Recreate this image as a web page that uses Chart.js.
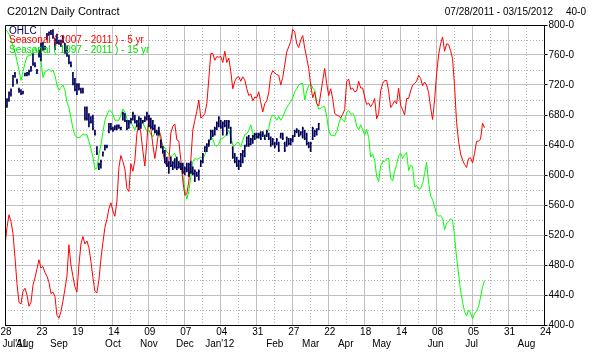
<!DOCTYPE html>
<html><head><meta charset="utf-8">
<script src="https://cdn.jsdelivr.net/npm/chart.js@4.4.1/dist/chart.umd.min.js"></script>
<style>html,body{margin:0;padding:0;background:#fff;}#wrap{width:595px;height:355px;}</style>
</head><body><div id="wrap"><canvas id="c" width="595" height="355"></canvas></div>
<script>
// ---- x axis: trading-day index, ticks every 18 trading days ----
const tickLabels = ['28','23','19','14','09','07','04','31','27','22','18','14','08','05','31','24'];
const monthLabels = ["Jul'11",'Aug','Sep','Oct','Nov','Dec',"Jan'12",'Feb','Mar','Apr','May','Jun','Jul','Aug'];
const monthDays = [5, 10, 27, 54, 72, 90, 107.5, 135, 153, 170.5, 188.5, 215.5, 233.5, 261];

// ---- OHLC, C2012N daily, 07/28/2011 - 03/15/2012 (one value per trading day) ----
const lows = [690,690,698,705,718,730,722,710,707,708, 732,732,733,738,746,744,735,757,752,766,
  767,780,786,787,782,767,775,774,771,776, 762,758,748,744,720,712,707,713,709,709,
  673,673,664,669,660,653,627,607,609,625, 633,636,656,660,658,660,660,662,660,673,
  671,660,662,669,673,669,664,660,662,669, 671,673,664,662,660,656,653,653,636,629,
  616,611,602,611,607,609,607,609,607,602, 600,604,598,602,600,591,598,593,611,616,
  631,631,638,647,651,653,660,664,662,653, 664,653,662,642,622,616,611,607,611,616,
  624,638,638,640,642,647,649,649,647,651, 647,651,647,638,640,636,640,631,649,647,
  631,638,640,640,644,651,656,651,653,649, 647,640,636,631,647,651,653,660];
const highs = [700,702,711,715,733,737,728,716,714,712, 736,737,740,745,762,750,741,767,776,777,
  772,789,791,793,794,782,788,780,780,786, 776,772,760,751,737,729,722,722,716,716,
  691,691,682,678,680,660,638,616,620,631, 640,640,669,669,664,666,667,667,664,684,
  682,673,673,676,684,680,673,678,676,673, 678,684,680,676,673,667,660,664,647,638,
  633,624,618,624,618,622,624,618,616,616, 611,616,616,618,611,607,604,607,620,629,
  638,642,647,660,660,664,671,678,673,671, 673,673,673,664,638,629,624,620,629,633,
  640,651,653,649,653,656,656,656,658,658, 653,660,656,651,649,644,649,644,656,656,
  644,651,649,649,653,660,662,660,658,664, 660,656,644,644,664,660,662,669];
const opens = [692,692,700,707,720,735,726,714,712,709, 733,733,735,740,760,748,737,765,754,775,
  768,782,787,792,792,769,786,779,773,784, 774,770,758,750,735,727,709,720,714,714,
  689,689,680,676,678,659,636,609,611,626, 634,637,658,667,662,661,662,666,661,675,
  680,671,664,670,675,678,671,662,674,670, 672,675,678,674,671,665,658,662,645,636,
  631,622,604,622,609,620,622,616,614,614, 602,614,600,616,609,593,603,595,612,618,
  632,633,640,649,659,655,662,666,671,655, 671,671,664,662,636,627,622,609,613,618,
  626,640,651,642,644,649,654,651,656,652, 652,653,654,649,642,642,642,642,651,654,
  642,640,647,642,646,653,657,658,654,651, 658,654,642,633,649,652,655,662];
const closes = [698,700,709,713,731,732,724,712,709,711, 735,736,738,743,748,746,739,759,774,768,
  771,787,790,789,784,780,777,776,778,778, 764,760,750,746,722,714,720,715,711,711,
  676,675,670,671,662,655,629,614,618,630, 639,639,664,662,660,664,665,663,663,682,
  673,662,671,674,682,671,666,675,668,672, 676,682,666,664,662,658,656,655,638,631,
  618,613,616,613,616,612,610,611,609,604, 609,607,614,604,602,605,599,605,618,627,
  637,640,645,658,653,662,669,676,664,669, 666,656,671,644,624,618,613,618,627,631,
  638,649,641,647,651,654,651,654,649,656, 648,658,649,640,647,638,647,633,655,649,
  633,649,642,647,651,658,660,653,657,662, 649,642,638,642,662,658,660,668];

// ---- Seasonal ( 2007 - 2011 ) - 5 yr, one value per trading day ----
const seasonal5 = [507,530,547,538,522,490,455,430,428,445, 449,440,425,430,453,463,475,487,476,478,
  470,465,457,442,444,438,413,409,418,432, 448,465,507,480,465,451,444,480,508,518,
  508,512,503,485,463,445,443,460,488,510, 530,541,555,563,552,545,565,610,626,618,
  608,582,578,615,605,620,655,670,656,632, 612,645,680,662,640,622,640,660,652,631,
  617,612,618,656,665,668,647,645,620,592, 573,575,592,620,660,673,685,700,676,678,
  682,695,728,762,762,753,758,757,758,750, 765,750,756,738,715,725,730,731,725,731,
  727,715,706,708,699,704,703,711,697,684, 695,699,710,733,739,736,734,733,720,730,
  747,764,771,778,794,791,775,770,780,786, 769,756,742,720,703,711,695,692,708,726,
  742,722,706,715,702,682,680,679,676,681, 687,725,728,714,716,711,712,725,716,716,
  704,694,696,691,695,702,675,682,712,722, 726,726,712,690,694,699,695,716,693,687,
  680,702,702,712,720,722,725,733,729,719, 724,720,710,690,674,700,735,760,775,784,
  765,775,774,766,755,718,670,645,628,620, 614,610,622,623,616,629,645,645,648,669,663];

// ---- Seasonal ( 1997 - 2011 ) - 15 yr ----
const seasonal15 = [795,792,788,781,772,764,752,740,726,738, 749,758,759,760,765,769,763,766,752,730,
  738,739,741,738,740,733,720,713,717,720, 713,697,690,676,662,653,650,650,651,655,
  653,654,645,635,624,608,609,627,640,657, 673,680,686,685,681,673,673,673,680,688,
  684,675,669,671,665,660,669,676,674,669, 664,658,660,654,651,656,658,654,648,639,
  636,631,628,624,627,629,620,617,612,600, 580,568,578,598,618,622,621,622,624,622,
  627,634,640,651,648,640,638,641,649,649, 651,655,660,651,640,639,643,643,638,646,
  654,655,659,667,656,648,649,652,653,654, 654,655,662,676,680,678,673,678,673,677,
  684,690,694,698,703,711,715,720,722,722, 700,712,719,722,716,713,696,688,689,691,
  691,678,660,653,653,652,658,668,676,673, 671,684,686,681,682,678,665,660,667,661,
  653,661,650,624,628,620,598,591,612,618, 618,622,622,596,592,605,614,626,629,622,
  627,630,606,613,611,584,586,581,582,589, 602,617,590,572,567,558,548,545,546,542,
  527,536,538,542,540,518,490,468,446,430, 418,412,420,416,408,416,418,425,437,451,459];

const FONT = '"Liberation Sans", Arial, Helvetica, sans-serif';
const NAVY = '#00005c';
const RED = '#ff0000';
const GREEN = '#00ff00';
const DAYS_PER_TICK = 18;

const decor = {
  id: 'decor',
  beforeDatasetsDraw(chart) {
    const { ctx, chartArea: a, scales: { x, y } } = chart;
    ctx.save();
    ctx.lineWidth = 1;
    const crisp = p => Math.round(p - 0.5) + 0.5;
    for (let v = 420; v < 800; v += 20) {
      const py = crisp(y.getPixelForValue(v));
      const solid = v % 40 === 0;
      ctx.strokeStyle = solid ? '#c0c0c0' : '#b4b4b4';
      ctx.setLineDash(solid ? [] : [1, 2]);
      ctx.beginPath(); ctx.moveTo(a.left, py); ctx.lineTo(a.right, py); ctx.stroke();
    }
    for (let d = DAYS_PER_TICK / 2; d < 270; d += DAYS_PER_TICK / 2) {
      const px = crisp(x.getPixelForValue(d));
      const solid = d % DAYS_PER_TICK === 0;
      ctx.strokeStyle = solid ? '#c0c0c0' : '#b4b4b4';
      ctx.setLineDash(solid ? [] : [1, 2]);
      ctx.beginPath(); ctx.moveTo(px, a.top); ctx.lineTo(px, a.bottom); ctx.stroke();
    }
    ctx.restore();
  },
  afterDraw(chart) {
    const { ctx, chartArea: a, scales: { x } } = chart;
    ctx.save();
    // frame top/left
    ctx.strokeStyle = '#000'; ctx.lineWidth = 1; ctx.setLineDash([]);
    ctx.beginPath();
    ctx.moveTo(Math.round(a.left - 0.5) + 0.5, a.bottom);
    ctx.lineTo(Math.round(a.left - 0.5) + 0.5, Math.round(a.top - 0.5) + 0.5);
    ctx.lineTo(a.right, Math.round(a.top - 0.5) + 0.5);
    ctx.stroke();
    // header texts
    ctx.textBaseline = 'middle';
    ctx.fillStyle = '#000';
    ctx.font = '11px ' + FONT;
    ctx.textAlign = 'left';
    ctx.fillText('C2012N Daily Contract', 7, 12);
    ctx.font = '10px ' + FONT;
    ctx.textAlign = 'right';
    ctx.fillText('07/28/2011 - 03/15/2012', 553, 12);
    ctx.textAlign = 'left';
    ctx.fillText('40-0', 566, 12);
    // legend inside plot
    ctx.font = '10px ' + FONT;
    const items = [['OHLC', NAVY], ['Seasonal ( 2007 - 2011 ) - 5 yr', RED], ['Seasonal ( 1997 - 2011 ) - 15 yr', '#00e000']];
    items.forEach((it, i) => { ctx.fillStyle = it[1]; ctx.fillText(it[0], 9, 31 + i * 9.5); });
    // month labels
    ctx.fillStyle = '#000';
    ctx.textAlign = 'center';
    monthLabels.forEach((m, i) => ctx.fillText(m, x.getPixelForValue(monthDays[i]), 344));
    ctx.restore();
  }
};

const pts = arr => arr.map((v, i) => ({ x: i, y: v }));

new Chart(document.getElementById('c'), {
  type: 'line',
  data: {
    datasets: [
      { type: 'bar', label: 'OHLC', data: lows.map((l, i) => ({ x: i, y: [l, highs[i]] })),
        backgroundColor: NAVY, borderWidth: 0, barThickness: 1, order: 0 },
      { type: 'line', label: 'open', data: pts(opens), showLine: false,
        pointStyle: 'dash', pointRotation: 180, pointRadius: 1, pointBorderWidth: 1,
        pointBorderColor: NAVY, pointBackgroundColor: NAVY, borderColor: NAVY, order: 0 },
      { type: 'line', label: 'close', data: pts(closes), showLine: false,
        pointStyle: 'dash', pointRotation: 0, pointRadius: 1, pointBorderWidth: 1,
        pointBorderColor: NAVY, pointBackgroundColor: NAVY, borderColor: NAVY, order: 0 },
      { type: 'line', label: 'Seasonal ( 2007 - 2011 ) - 5 yr', data: pts(seasonal5),
        borderColor: RED, borderWidth: 1, pointRadius: 0, tension: 0, order: 1 },
      { type: 'line', label: 'Seasonal ( 1997 - 2011 ) - 15 yr', data: pts(seasonal15),
        borderColor: GREEN, borderWidth: 1, pointRadius: 0, tension: 0, order: 2 }
    ]
  },
  options: {
    responsive: false, animation: false, devicePixelRatio: 1, events: [],
    layout: { padding: { left: 4.5, top: 25, right: 0, bottom: 0 } },
    plugins: { legend: { display: false }, tooltip: { enabled: false }, title: { display: false } },
    scales: {
      x: {
        type: 'linear', min: 0, max: 270, offset: false, position: 'bottom',
        afterFit(s) { s.height = 30; s.paddingLeft = 0; s.paddingRight = 0; },
        ticks: { stepSize: DAYS_PER_TICK, autoSkip: false, maxRotation: 0, minRotation: 0,
          color: '#000', font: { family: FONT, size: 10 }, padding: 1, labelOffset: 1,
          callback: (v) => tickLabels[Math.round(v / DAYS_PER_TICK)] },
        grid: { display: true, drawOnChartArea: false, drawTicks: false },
        border: { display: true, color: '#000', width: 1 }
      },
      y: {
        type: 'linear', position: 'right', min: 400, max: 800,
        afterFit(s) { s.width = 50.5; },
        ticks: { stepSize: 40, autoSkip: false, color: '#000', font: { family: FONT, size: 10 }, padding: 1,
          callback: v => v + '-0' },
        grid: { display: true, drawOnChartArea: false, drawTicks: true, tickLength: 3, tickColor: '#000' },
        border: { display: true, color: '#000', width: 1 }
      }
    }
  },
  plugins: [decor]
});
</script></body></html>
